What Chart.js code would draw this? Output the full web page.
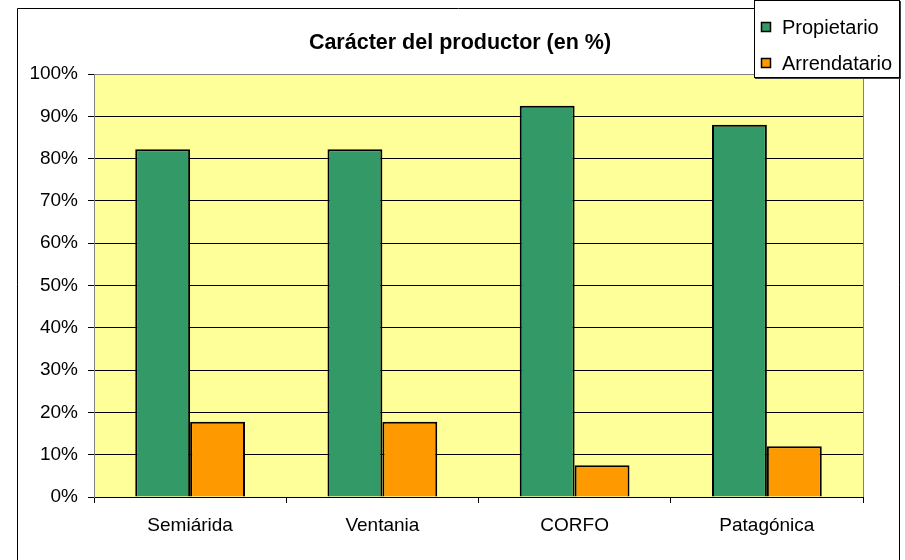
<!DOCTYPE html>
<html>
<head>
<meta charset="utf-8">
<script src="https://cdn.jsdelivr.net/npm/chart.js@4/dist/chart.umd.min.js"></script>
<style>
    html, body { margin: 0; padding: 0; background: #ffffff; }
    #wrap { width: 905px; height: 560px; }
</style>
</head>
<body>
<div id="wrap"><canvas id="productorChart" width="905" height="560"></canvas></div>
<script>
// data
const categories = ['Semiárida', 'Ventania', 'CORFO', 'Patagónica'];
const propietario = [82.2, 82.2, 92.5, 88.0];
const arrendatario = [17.8, 17.8, 7.5, 12.0];
const seriesNames = ['Propietario', 'Arrendatario'];
const titleText = 'Carácter del productor (en %)';

const FONT = '"Liberation Sans", Arial, sans-serif';

// outer frame, plot background, title and legend
const excelLook = {
    id: 'excelLook',
    beforeDraw(chart) {
        const ctx = chart.ctx;
        const a = chart.chartArea;
        ctx.save();
        ctx.fillStyle = '#ffffff';
        ctx.fillRect(0, 0, chart.width, chart.height);
        ctx.fillStyle = '#FFFF99';
        ctx.fillRect(a.left, a.top, a.right - a.left, a.bottom - a.top);
        ctx.restore();
    },
    afterDraw(chart) {
        const ctx = chart.ctx;
        const a = chart.chartArea;
        ctx.save();

        // right edge of plot area
        ctx.strokeStyle = '#808080';
        ctx.lineWidth = 1;
        ctx.beginPath();
        ctx.moveTo(Math.round(a.right) + 0.5, a.top);
        ctx.lineTo(Math.round(a.right) + 0.5, a.bottom);
        ctx.stroke();

        // outer frame
        ctx.strokeStyle = '#000000';
        ctx.beginPath();
        ctx.moveTo(17.5, 570);
        ctx.lineTo(17.5, 8.5);
        ctx.lineTo(899.5, 8.5);
        ctx.lineTo(899.5, 570);
        ctx.stroke();

        // title
        ctx.fillStyle = '#000000';
        ctx.font = 'bold 21.5px ' + FONT;
        ctx.textAlign = 'center';
        ctx.textBaseline = 'middle';
        ctx.fillText(titleText, 460, 43);

        // legend box
        const lx = 754, ly = 0, lw = 146, lh = 78;
        ctx.fillStyle = '#404040';
        ctx.fillRect(lx + 1, ly + 1, lw, lh);
        ctx.fillStyle = '#ffffff';
        ctx.fillRect(lx, ly, lw, lh);
        ctx.strokeStyle = '#000000';
        ctx.strokeRect(lx + 0.5, ly + 0.5, lw - 1, lh - 1);

        ctx.font = '20px ' + FONT;
        ctx.textAlign = 'left';
        ctx.textBaseline = 'middle';
        chart.data.datasets.forEach((ds, i) => {
            const cy = 27 + i * 36;
            ctx.fillStyle = ds.backgroundColor;
            ctx.fillRect(761, cy - 5, 10, 10);
            ctx.strokeStyle = '#000000';
            ctx.lineWidth = 1.5;
            ctx.strokeRect(761.5, cy - 4.5, 9, 9);
            ctx.fillStyle = '#000000';
            ctx.fillText(ds.label, 782, cy + 1);
        });
        ctx.restore();
    }
};

const ctx = document.getElementById('productorChart').getContext('2d');
new Chart(ctx, {
    type: 'bar',
    data: {
        labels: categories,
        datasets: [{
            label: seriesNames[0],
            data: propietario,
            backgroundColor: '#339966',
            borderColor: '#000000',
            borderWidth: 2
        }, {
            label: seriesNames[1],
            data: arrendatario,
            backgroundColor: '#FF9900',
            borderColor: '#000000',
            borderWidth: 2
        }]
    },
    options: {
        responsive: false,
        animation: false,
        layout: { padding: { top: 74, right: 42, bottom: 0, left: 0 } },
        datasets: {
            bar: { barPercentage: 1, categoryPercentage: 0.571 }
        },
        plugins: {
            legend: { display: false },
            title: { display: false },
            tooltip: { enabled: false }
        },
        scales: {
            x: {
                afterFit(scale) { scale.height = 63; },
                grid: {
                    offset: true,
                    drawOnChartArea: false,
                    drawTicks: true,
                    tickLength: 6,
                    color: '#000000'
                },
                border: { color: '#000000', width: 1 },
                ticks: {
                    color: '#000000',
                    padding: 11,
                    font: { family: FONT, size: 19 }
                }
            },
            y: {
                min: 0,
                max: 100,
                afterFit(scale) { scale.width = 94; },
                grid: {
                    color: ctx => (ctx.tick && ctx.tick.value === 100) ? '#808080' : '#000000',
                    tickColor: '#000000',
                    tickLength: 6
                },
                border: { color: '#808080', width: 1 },
                ticks: {
                    stepSize: 10,
                    color: '#000000',
                    padding: 10,
                    font: { family: FONT, size: 19 },
                    callback: v => v + '%'
                }
            }
        }
    },
    plugins: [excelLook]
});
</script>
</body>
</html>
